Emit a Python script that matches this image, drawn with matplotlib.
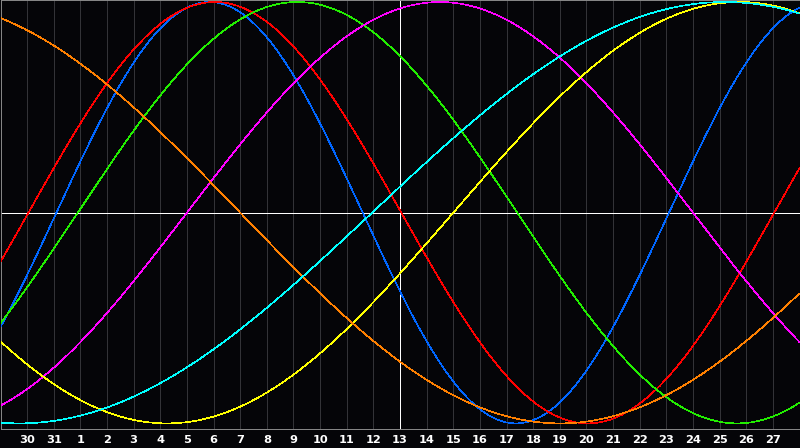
import numpy as np
import matplotlib
matplotlib.use("Agg")
import matplotlib.pyplot as plt

# ---- data ----
day_labels = [30, 31] + list(range(1, 28))          # tick labels at grid positions 1..29
today_pos = 15                                       # position of the "today" line (day 13)
cycle_names = ["Physical", "Emotional", "Intellectual", "Intuitive",
               "Aesthetic", "Awareness", "Spiritual"]
cycle_days = [23, 28, 33, 38, 43, 48, 53]            # cycle lengths (days)
cycle_phase_today = [12.9, 13.95, 12.1, 8.0, 41.0, 30.0, 1.05]  # days into cycle at today
cycle_colors = ["#0066ff", "#ff0000", "#22ee00", "#ff00ff",
                "#ffff00", "#ff8000", "#00ffff"]

W, H = 800, 448
LW = 0.7  # ~1 px at 100 dpi
fig = plt.figure(figsize=(W / 100, H / 100), dpi=100)
fig.patch.set_facecolor("#050508")

# axes placed so that border lines fall on pixel centres
left_px, right_px, top_px, bot_px = 0.5, 799.5, 0.5, 428.5
ax = fig.add_axes([left_px / W, (H - bot_px) / H, (right_px - left_px) / W, (bot_px - top_px) / H])
ax.set_facecolor("#050508")

n_days = len(day_labels) + 1
ax.set_xlim(0, n_days)
center, amp = 212.7, 210.7
ax.set_ylim((center - bot_px) / amp, (center - top_px) / amp)

for s in ax.spines.values():
    s.set_color("#8a8a8a")
    s.set_linewidth(LW)
ax.set_xticks([])
ax.set_yticks([])

# day grid
for i in range(1, n_days):
    ax.axvline(i, color="#333337", lw=LW, antialiased=False, zorder=1)
ax.axhline(0, color="#ffffff", lw=LW, antialiased=False, zorder=2)
ax.axvline(today_pos, color="#ffffff", lw=LW, antialiased=False, zorder=2)

t = np.linspace(0, n_days, 401)
for name, P, ph, c in zip(cycle_names, cycle_days, cycle_phase_today, cycle_colors):
    v = np.sin(2 * np.pi * (ph + (t - today_pos)) / P)
    ax.plot(t, v, color=c, lw=0.45, antialiased=False, zorder=3, label=name,
            solid_joinstyle="miter", solid_capstyle="butt")

# day labels
for i, lab in enumerate(day_labels, start=1):
    x = (left_px + i * (right_px - left_px) / n_days) / W
    fig.text(x, (H - 439.5) / H, str(lab), color="white", fontsize=8.2,
             fontweight="bold", ha="center", va="center", family="DejaVu Sans")

fig.savefig("out.png", dpi=100, facecolor=fig.get_facecolor())
